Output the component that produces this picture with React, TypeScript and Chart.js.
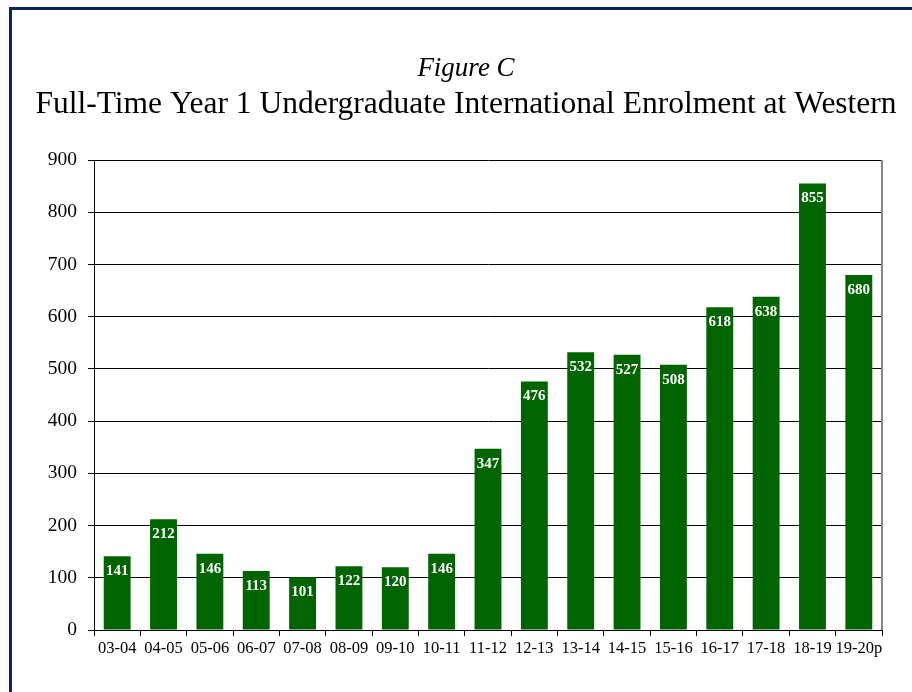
import React, { useEffect, useRef } from "react";
import { Chart, registerables } from "chart.js";

Chart.register(...registerables);

const categories = ["03-04", "04-05", "05-06", "06-07", "07-08", "08-09", "09-10", "10-11", "11-12", "12-13", "13-14", "14-15", "15-16", "16-17", "17-18", "18-19", "19-20p"];
const enrolment = [141, 212, 146, 113, 101, 122, 120, 146, 347, 476, 532, 527, 508, 618, 638, 855, 680];
const yTicks = [0, 100, 200, 300, 400, 500, 600, 700, 800, 900];
const figureLabel = "Figure C";
const chartTitle = "Full-Time Year 1 Undergraduate International Enrolment at Western";

const SERIF = "'Liberation Serif', 'Times New Roman', serif";

const decorPlugin = {
  id: "decor",
  beforeDraw(chart: any) {
    const ctx = chart.ctx;
    ctx.save();
    ctx.fillStyle = "#fff";
    ctx.fillRect(0, 0, chart.width, chart.height);
    ctx.fillStyle = "#0b2461";
    ctx.fillRect(9, 7, chart.width - 9, 3);
    ctx.fillRect(9, 7, 3, chart.height - 7);
    ctx.fillStyle = "#000";
    ctx.textAlign = "center";
    ctx.textBaseline = "alphabetic";
    ctx.font = `italic 27px ${SERIF}`;
    ctx.fillText(figureLabel, 466, 76);
    ctx.font = `31.5px ${SERIF}`;
    ctx.fillText(chartTitle, 466, 113);
    ctx.restore();
  },
  afterDraw(chart: any) {
    const ctx = chart.ctx;
    const a = chart.chartArea;
    ctx.save();
    ctx.strokeStyle = "#888";
    ctx.lineWidth = 2;
    ctx.beginPath();
    ctx.moveTo(a.right, a.top);
    ctx.lineTo(a.right, a.bottom);
    ctx.stroke();
    ctx.restore();
  },
  afterDatasetsDraw(chart: any) {
    const ctx = chart.ctx;
    const meta = chart.getDatasetMeta(0);
    const data = chart.data.datasets[0].data;
    ctx.save();
    ctx.fillStyle = "#fff";
    ctx.font = `bold 15px ${SERIF}`;
    ctx.textAlign = "center";
    ctx.textBaseline = "middle";
    meta.data.forEach((bar: any, i: number) => {
      ctx.fillText(String(data[i]), bar.x, bar.y + 15);
    });
    ctx.restore();
  },
};

export default function App() {
  const ref = useRef<HTMLCanvasElement | null>(null);
  useEffect(() => {
    if (!ref.current) return;
    const chart = new Chart(ref.current, {
      type: "bar",
      data: {
        labels: categories,
        datasets: [
          {
            data: enrolment,
            backgroundColor: "#006400",
            borderWidth: 0,
            categoryPercentage: 1,
            barPercentage: 0.58,
          },
        ],
      },
      options: {
        responsive: false,
        animation: false,
        layout: { padding: { top: 160, left: 20, right: 30, bottom: 22 } },
        plugins: { legend: { display: false }, tooltip: { enabled: false }, title: { display: false } },
        scales: {
          x: {
            offset: true,
            grid: { offset: true, drawOnChartArea: false, drawTicks: true, tickLength: 6, color: "#000" },
            border: { color: "#000", width: 1 },
            ticks: { font: { family: SERIF, size: 16.5 }, color: "#000", padding: 3, maxRotation: 0, autoSkip: false },
            afterFit: (s: any) => { s.height = 40; },
          },
          y: {
            min: 0,
            max: 900,
            afterBuildTicks: (s: any) => { s.ticks = yTicks.map((v) => ({ value: v })); },
            grid: { color: "#000", tickLength: 6 },
            border: { color: "#000", width: 1 },
            ticks: { font: { family: SERIF, size: 19.5 }, color: "#000", padding: 11 },
            afterFit: (s: any) => { s.width = 74; },
          },
        },
      },
      plugins: [decorPlugin],
    } as any);
    return () => chart.destroy();
  }, []);
  return (
    <div style={{ position: "absolute", left: 0, top: 0, width: 912, height: 692 }}>
      <canvas ref={ref} width={912} height={692} style={{ display: "block", width: 912, height: 692 }} />
    </div>
  );
}
